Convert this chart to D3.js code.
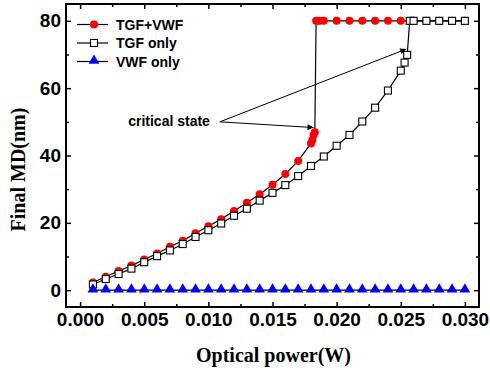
<!DOCTYPE html>
<html>
<head>
<meta charset="utf-8">
<script src="https://cdn.jsdelivr.net/npm/d3@7"></script>
<style>
  body { margin: 0; background: #fff; }
  svg { display: block; }
</style>
</head>
<body>
<div id="chart"></div>
<script>
// values
const powerTGFVWF = [0.001, 0.002, 0.003, 0.004, 0.005, 0.006, 0.007, 0.008, 0.009, 0.010,
  0.011, 0.012, 0.013, 0.014, 0.015, 0.016, 0.017, 0.018, 0.0181, 0.0182, 0.0183,
  0.0184, 0.0185, 0.0187, 0.019, 0.020, 0.021, 0.022, 0.023, 0.024, 0.025,
  0.026, 0.027, 0.028, 0.029, 0.030];
const mdTGFVWF = [2.3, 4.0, 5.7, 7.3, 9.1, 10.9, 12.9, 14.7, 16.9, 19.0,
  21.1, 23.5, 26.0, 28.5, 31.3, 34.5, 38.4, 43.6, 44.6, 46.1, 46.9,
  80, 80, 80, 80, 80, 80, 80, 80, 80, 80,
  80, 80, 80, 80, 80];

const powerTGF = [0.001, 0.002, 0.003, 0.004, 0.005, 0.006, 0.007, 0.008, 0.009, 0.010,
  0.011, 0.012, 0.013, 0.014, 0.015, 0.016, 0.017, 0.018, 0.019, 0.020,
  0.021, 0.022, 0.023, 0.024, 0.025, 0.0253, 0.0255, 0.0257,
  0.026, 0.027, 0.028, 0.029, 0.030];
const mdTGF = [1.7, 3.3, 4.8, 6.4, 8.3, 10.1, 11.8, 13.7, 15.8, 17.8,
  19.8, 22.1, 24.2, 26.6, 28.9, 31.2, 33.9, 36.9, 39.7, 42.9,
  46.1, 50.1, 54.2, 59.3, 65.2, 67.6, 69.9, 80,
  80, 80, 80, 80, 80];

const powerVWF = [0.001, 0.002, 0.003, 0.004, 0.005, 0.006, 0.007, 0.008, 0.009, 0.010,
  0.011, 0.012, 0.013, 0.014, 0.015, 0.016, 0.017, 0.018, 0.019, 0.020,
  0.021, 0.022, 0.023, 0.024, 0.025, 0.026, 0.027, 0.028, 0.029, 0.030];
const mdVWF = [0, 0, 0, 0, 0, 0, 0, 0, 0, 0,
  0, 0, 0, 0, 0, 0, 0, 0, 0, 0,
  0, 0, 0, 0, 0, 0, 0, 0, 0, 0];

const xTicks = [0, 0.005, 0.010, 0.015, 0.020, 0.025, 0.030];
const xMinor = [0.0025, 0.0075, 0.0125, 0.0175, 0.0225, 0.0275];
const yTicks = [0, 20, 40, 60, 80];
const yMinor = [10, 30, 50, 70];

const seriesNames = ['TGF+VWF', 'TGF only', 'VWF only'];

const width = 490, height = 372;
const margin = { top: 4, right: 11, bottom: 65, left: 66 };

const svg = d3.select('#chart').append('svg')
  .attr('width', width)
  .attr('height', height);

const x = d3.scaleLinear().domain([-0.0011, 0.0311]).range([margin.left, width - margin.right]);
const y = d3.scaleLinear().domain([-5, 85]).range([height - margin.bottom, margin.top]);

const sans = 'Arial, "Liberation Sans", Helvetica, sans-serif';
const serif = '"Times New Roman", "Liberation Serif", Times, serif';

// axes, ticks inside
function styleAxis(g) {
  g.select('.domain').remove();
  g.selectAll('line').attr('stroke', '#000').attr('stroke-width', 1.5);
  g.selectAll('text')
    .attr('font-family', sans)
    .attr('font-size', 19)
    .attr('font-weight', 'bold')
    .attr('fill', '#000');
}

const plotBottom = height - margin.bottom, plotTop = margin.top;
const plotLeft = margin.left, plotRight = width - margin.right;

svg.append('g').attr('transform', `translate(0,${plotBottom})`)
  .call(d3.axisBottom(x).tickValues(xTicks).tickFormat(d3.format('.3f')).tickSize(-5).tickPadding(6))
  .call(styleAxis);
svg.append('g').attr('transform', `translate(0,${plotBottom})`)
  .call(d3.axisBottom(x).tickValues(xMinor).tickFormat('').tickSize(-3))
  .call(styleAxis);
svg.append('g').attr('transform', `translate(0,${plotTop})`)
  .call(d3.axisTop(x).tickValues(xTicks).tickFormat('').tickSize(-5))
  .call(styleAxis);
svg.append('g').attr('transform', `translate(0,${plotTop})`)
  .call(d3.axisTop(x).tickValues(xMinor).tickFormat('').tickSize(-3))
  .call(styleAxis);

svg.append('g').attr('transform', `translate(${plotLeft},0)`)
  .call(d3.axisLeft(y).tickValues(yTicks).tickSize(-5).tickPadding(5))
  .call(styleAxis);
svg.append('g').attr('transform', `translate(${plotLeft},0)`)
  .call(d3.axisLeft(y).tickValues(yMinor).tickFormat('').tickSize(-3))
  .call(styleAxis);
svg.append('g').attr('transform', `translate(${plotRight},0)`)
  .call(d3.axisRight(y).tickValues(yTicks).tickFormat('').tickSize(-5))
  .call(styleAxis);
svg.append('g').attr('transform', `translate(${plotRight},0)`)
  .call(d3.axisRight(y).tickValues(yMinor).tickFormat('').tickSize(-3))
  .call(styleAxis);

svg.append('rect')
  .attr('x', plotLeft).attr('y', plotTop)
  .attr('width', plotRight - plotLeft).attr('height', plotBottom - plotTop)
  .attr('fill', 'none').attr('stroke', '#000').attr('stroke-width', 2);

// axis titles
svg.append('text')
  .attr('x', (plotLeft + plotRight) / 2 + 1)
  .attr('y', 362)
  .attr('text-anchor', 'middle')
  .attr('font-family', serif).attr('font-weight', 'bold').attr('font-size', 20)
  .text('Optical power(W)');

svg.append('text')
  .attr('transform', `translate(25,${(plotTop + plotBottom) / 2 + 14}) rotate(-90)`)
  .attr('text-anchor', 'middle')
  .attr('font-family', serif).attr('font-weight', 'bold').attr('font-size', 20)
  .text('Final MD(nm)');

// series
const line = d3.line().x(d => x(d[0])).y(d => y(d[1]));
const zip = (a, b) => a.map((v, i) => [v, b[i]]);

const dataTGFVWF = zip(powerTGFVWF, mdTGFVWF);
const dataTGF = zip(powerTGF, mdTGF);
const dataVWF = zip(powerVWF, mdVWF);

const plot = svg.append('g');

function drawLine(data) {
  plot.append('path').datum(data)
    .attr('d', line)
    .attr('fill', 'none')
    .attr('stroke', '#000')
    .attr('stroke-width', 1.2);
}

const tri = d3.symbol().type(d3.symbolTriangle).size(50);

drawLine(dataTGFVWF);
plot.append('g').selectAll('circle').data(dataTGFVWF).join('circle')
  .attr('cx', d => x(d[0])).attr('cy', d => y(d[1]))
  .attr('r', 4).attr('fill', '#ff0000');

drawLine(dataTGF);
plot.append('g').selectAll('rect').data(dataTGF).join('rect')
  .attr('x', d => x(d[0]) - 3.5).attr('y', d => y(d[1]) - 3.5)
  .attr('width', 7).attr('height', 7)
  .attr('fill', '#fff').attr('stroke', '#000').attr('stroke-width', 1.1);

drawLine(dataVWF);
plot.append('g').selectAll('path').data(dataVWF).join('path')
  .attr('transform', d => `translate(${x(d[0])},${y(d[1]) - 0.8})`)
  .attr('d', tri).attr('fill', '#0000ff');

// legend
const legend = svg.append('g');
const legendY = [24.5, 43, 61.5];
seriesNames.forEach((name, i) => {
  const ly = legendY[i];
  legend.append('line')
    .attr('x1', 77).attr('x2', 108).attr('y1', ly).attr('y2', ly)
    .attr('stroke', '#000').attr('stroke-width', 1.2);
  if (i === 0) {
    legend.append('circle').attr('cx', 94).attr('cy', ly).attr('r', 4).attr('fill', '#ff0000');
  } else if (i === 1) {
    legend.append('rect').attr('x', 90.5).attr('y', ly - 3.5).attr('width', 7).attr('height', 7)
      .attr('fill', '#fff').attr('stroke', '#000').attr('stroke-width', 1.1);
  } else {
    legend.append('path').attr('transform', `translate(94,${ly - 0.8})`).attr('d', tri).attr('fill', '#0000ff');
  }
  legend.append('text')
    .attr('x', 116).attr('y', ly).attr('dy', '0.36em')
    .attr('font-family', sans).attr('font-weight', 'bold').attr('font-size', 14)
    .text(name);
});

// "critical state" annotation
const defs = svg.append('defs');
defs.append('marker')
  .attr('id', 'arrow')
  .attr('viewBox', '0 0 10 10')
  .attr('refX', 10).attr('refY', 5)
  .attr('markerWidth', 9).attr('markerHeight', 6)
  .attr('markerUnits', 'userSpaceOnUse')
  .attr('orient', 'auto')
  .append('path').attr('d', 'M0,0L10,5L0,10Z').attr('fill', '#000');

const noteFrom = [0.0109, 50];
const noteTo = [[0.0182, 48.3], [0.02542, 71.6]];
noteTo.forEach(t => {
  svg.append('line')
    .attr('x1', x(noteFrom[0])).attr('y1', y(noteFrom[1]))
    .attr('x2', x(t[0])).attr('y2', y(t[1]))
    .attr('stroke', '#000').attr('stroke-width', 1)
    .attr('marker-end', 'url(#arrow)');
});
svg.append('text')
  .attr('x', x(noteFrom[0]) - 10).attr('y', y(noteFrom[1]) - 1)
  .attr('dy', '0.36em')
  .attr('text-anchor', 'end')
  .attr('font-family', sans).attr('font-weight', 'bold').attr('font-size', 14)
  .text('critical state');
</script>
</body>
</html>
